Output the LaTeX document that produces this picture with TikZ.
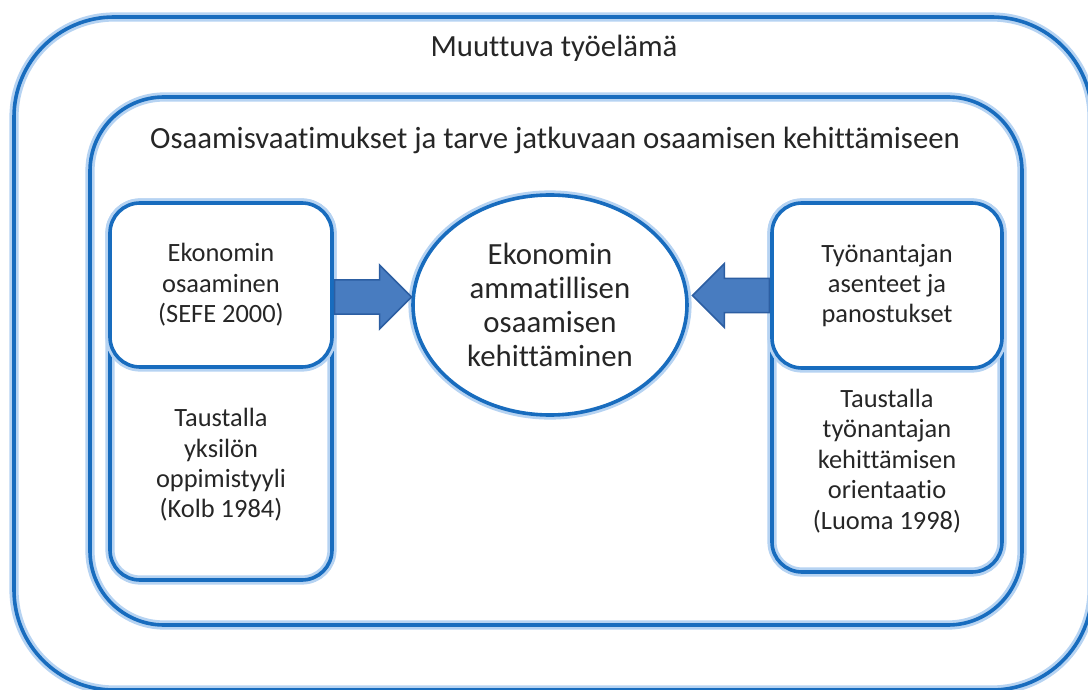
\documentclass[tikz,border=0pt]{standalone}
\usepackage{fontspec}
\setmainfont{Carlito}[Ligatures=CommonOff]
\usetikzlibrary{shapes.geometric,shapes.arrows,calc}
\definecolor{rimblue}{RGB}{24,108,190}
\definecolor{glowblue}{RGB}{182,211,242}
\definecolor{arrowblue}{RGB}{72,124,192}
\definecolor{arrowrim}{RGB}{44,94,162}
\definecolor{inktext}{RGB}{38,38,38}
\begin{document}
\begin{tikzpicture}[x=0.5pt,y=-0.5pt,
		rim/.style={draw=rimblue,line width=1.8pt,preaction={draw=glowblue,line width=4.6pt}},
		boxtext/.style={text=inktext,align=center,font=\fontsize{13.2}{15.2}\selectfont},
		headtext/.style={text=inktext,font=\fontsize{15.4}{18}\selectfont},
		blockarrow/.style={single arrow,draw=arrowrim,fill=arrowblue,line width=.8pt,inner sep=0pt,text height=15.5pt,text depth=0pt,minimum width=32pt,minimum height=38.5pt,anchor=tail}]
	\useasboundingbox (0,0) rectangle (1088,690);
	\pgfmathsetmacro{\Rout}{50}
	\pgfmathsetmacro{\Rin}{37}
	\pgfmathsetmacro{\Rbox}{15}
	% nested frames
	\node[rim,rounded corners=\Rout pt,minimum width=539pt,minimum height=336.5pt] (work) at (553,353.5) {};
	\node[headtext] (worktitle) at (554,48) {Muuttuva työelämä};
	\node[rim,rounded corners=\Rin pt,minimum width=466pt,minimum height=264pt] (needs) at (556,361) {};
	\node[headtext] (needstitle) at (555,140) {Osaamisvaatimukset ja tarve jatkuvaan osaamisen kehittämiseen};
	% left column
	\node[rim,rounded corners=\Rbox pt,minimum width=111pt,minimum height=188.5pt] (leftback) at (221,391.5) {};
	\node[rim,fill=white,rounded corners=\Rbox pt,minimum width=111pt,minimum height=82pt,boxtext] (ekon) at (221,285) {Ekonomin\\osaaminen\\(SEFE 2000)};
	\node[boxtext] (kolb) at (221,465) {Taustalla\\yksilön\\oppimistyyli\\(Kolb 1984)};
	% right column
	\node[rim,rounded corners=\Rbox pt,minimum width=115pt,minimum height=184.5pt] (rightback) at (887,387.5) {};
	\node[rim,fill=white,rounded corners=\Rbox pt,minimum width=115pt,minimum height=82.5pt,boxtext] (tyon) at (887,285.5) {Työnantajan\\asenteet ja\\panostukset};
	\node[boxtext] (luoma) at (887,461) {Taustalla\\työnantajan\\kehittämisen\\orientaatio\\(Luoma 1998)};
	% centre
	\node[rim,fill=white,ellipse,inner sep=0pt,minimum width=137pt,minimum height=110pt,text=inktext,align=center,font=\fontsize{15.4}{17}\selectfont] (amm) at (550,305) {Ekonomin\\ammatillisen\\osaamisen\\kehittäminen};
	\node[blockarrow] (arrL) at ($(ekon.east)+(0,12)$) {};
	\node[blockarrow,shape border rotate=180] (arrR) at ($(tyon.west)+(0,10)$) {};
\end{tikzpicture}
\end{document}
